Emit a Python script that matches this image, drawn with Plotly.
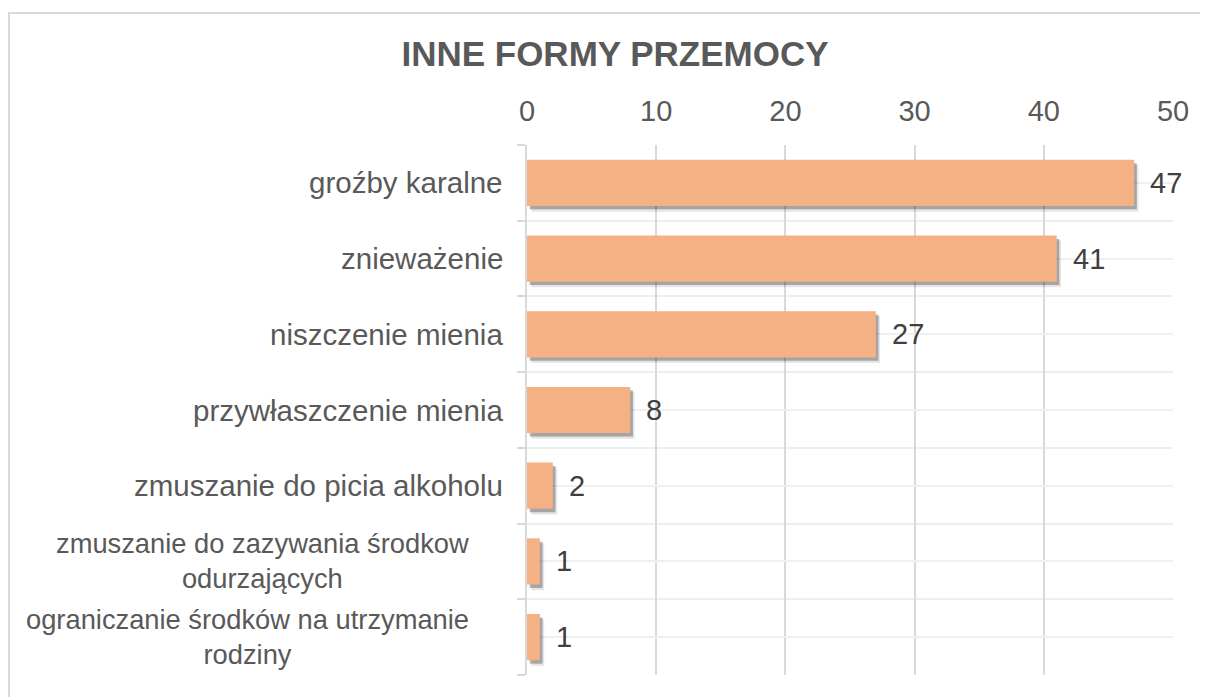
import plotly.graph_objects as go

categories = [
    "groźby karalne",
    "znieważenie",
    "niszczenie mienia",
    "przywłaszczenie mienia",
    "zmuszanie do picia alkoholu",
    "zmuszanie do zazywania środkow<br>odurzających",
    "ograniczanie środków na utrzymanie<br>rodziny",
]
values = [47, 41, 27, 8, 2, 1, 1]
x_ticks = [0, 10, 20, 30, 40, 50]
title_text = "INNE FORMY PRZEMOCY"

W, H = 1208, 697
L, R, T, B = 519, 43, 137, 30
FONT = "Liberation Sans, Arial, sans-serif"
BAR = "#F4B183"
n = len(categories)
ypos = list(range(n))

fig = go.Figure()
# soft shadow layers
fig.add_trace(go.Bar(x=values, y=[p + 0.07 for p in ypos], base=0.33, orientation="h",
                     width=0.62, marker=dict(color="rgba(0,0,0,0.10)", line_width=0),
                     hoverinfo="skip", showlegend=False))
fig.add_trace(go.Bar(x=values, y=[p + 0.045 for p in ypos], base=0.2, orientation="h",
                     width=0.61, marker=dict(color="rgba(0,0,0,0.28)", line_width=0),
                     hoverinfo="skip", showlegend=False))
fig.add_trace(go.Bar(x=values, y=ypos, orientation="h", width=0.61,
                     marker=dict(color=BAR, line_width=0), showlegend=False))

annotations = []
for i, (c, v) in enumerate(zip(categories, values)):
    annotations.append(dict(x=v, y=i, xref="x", yref="y", text=str(v), showarrow=False,
                            xanchor="left", xshift=14,
                            font=dict(family=FONT, size=29, color="#404040")))
    multi = "<br>" in c
    annotations.append(dict(x=0, y=i, xref="paper", yref="y", text=c, showarrow=False,
                            xanchor="right", align="center",
                            xshift=-56 if multi else -22,
                            font=dict(family=FONT, size=27.3 if multi else 29.5,
                                      color="#595959")))

pw = W - L - R
ph = H - T - B
frame = dict(type="rect", xref="paper", yref="paper",
             x0=(1 - L) / pw, x1=(W + 20 - L) / pw,
             y0=-(B + 20) / ph, y1=(H - B - 5) / ph,
             line=dict(color="#d9d9d9", width=2), fillcolor="rgba(0,0,0,0)", layer="below")

fig.update_layout(
    width=W, height=H,
    margin=dict(l=L, r=R, t=T, b=B),
    paper_bgcolor="white", plot_bgcolor="white",
    barmode="overlay",
    title=dict(text="<b>" + title_text + "</b>", x=607 / W, xanchor="center",
               y=1 - 46 / H, yanchor="middle",
               font=dict(family=FONT, size=35, color="#595959")),
    xaxis=dict(side="top", range=[0, 50], tickvals=x_ticks, showgrid=True,
               gridcolor="#d9d9d9", gridwidth=1.5, zeroline=False, showline=False,
               ticks="", ticklabelstandoff=17,
               tickfont=dict(family=FONT, size=29, color="#595959")),
    yaxis=dict(range=[n - 0.5, -0.5], tickvals=ypos, showticklabels=False,
               showgrid=True, gridcolor="#f0f0f0", gridwidth=1.5, zeroline=False,
               showline=True, linecolor="#d9d9d9", linewidth=2, ticks="",
               minor=dict(tickvals=[p - 0.5 for p in range(n + 1)], ticks="outside",
                          ticklen=8, tickcolor="#d9d9d9", tickwidth=2,
                          showgrid=True, gridcolor="#eeeeee", gridwidth=1.5)),
    annotations=annotations,
    shapes=[frame],
)

fig.write_html("out.html")
